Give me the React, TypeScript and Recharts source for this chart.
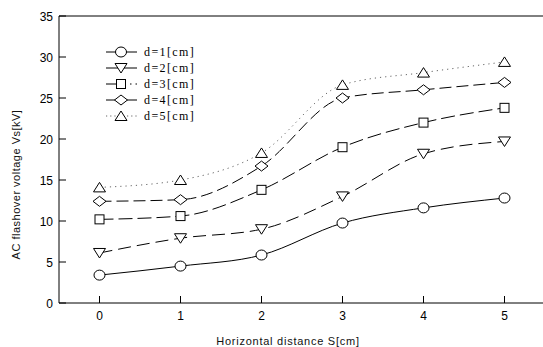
import React from "react";
import {
  LineChart,
  Line,
  XAxis,
  YAxis,
  Legend,
  ReferenceLine,
} from "recharts";

// horizontal distance S [cm]
const distances = [0, 1, 2, 3, 4, 5];
const yTicks = [0, 5, 10, 15, 20, 25, 30, 35];

// AC flashover voltage Vs [kV] for each gap d
const d1 = [3.4, 4.5, 5.85, 9.75, 11.6, 12.8];
const d2 = [6.1, 7.9, 9.0, 13.0, 18.2, 19.7];
const d3 = [10.2, 10.6, 13.8, 19.0, 22.0, 23.8];
const d4 = [12.4, 12.6, 16.7, 25.0, 26.0, 26.9];
const d5 = [14.1, 15.0, 18.3, 26.6, 28.1, 29.4];

const labels = ["d=1[cm]", "d=2[cm]", "d=3[cm]", "d=4[cm]", "d=5[cm]"];

const data = distances.map((s, i) => ({
  s,
  d1: d1[i],
  d2: d2[i],
  d3: d3[i],
  d4: d4[i],
  d5: d5[i],
}));

type Shape = "circle" | "triDown" | "square" | "diamond" | "triUp";

const Marker = ({ cx, cy, shape }: { cx: number; cy: number; shape: Shape }) => {
  const p = { fill: "#fff", stroke: "#000", strokeWidth: 1 };
  if (shape === "circle") return <ellipse cx={cx} cy={cy} rx={5.5} ry={5} {...p} />;
  if (shape === "square") return <rect x={cx - 4.5} y={cy - 4.5} width={9} height={9} {...p} />;
  if (shape === "diamond")
    return <polygon points={`${cx - 6.5},${cy} ${cx},${cy - 5} ${cx + 6.5},${cy} ${cx},${cy + 5}`} {...p} />;
  if (shape === "triDown")
    return <polygon points={`${cx - 6},${cy - 4.5} ${cx + 6},${cy - 4.5} ${cx},${cy + 5}`} {...p} />;
  return <polygon points={`${cx - 6},${cy + 4.5} ${cx + 6},${cy + 4.5} ${cx},${cy - 5}`} {...p} />;
};

const series: { key: string; shape: Shape; dash?: string; color: string }[] = [
  { key: "d1", shape: "circle", color: "#000" },
  { key: "d2", shape: "triDown", dash: "13 6", color: "#000" },
  { key: "d3", shape: "square", dash: "14 5", color: "#000" },
  { key: "d4", shape: "diamond", dash: "12 5", color: "#000" },
  { key: "d5", shape: "triUp", dash: "1.2 4", color: "#666" },
];

const font = "Liberation Sans, Arial, sans-serif";

const YTick = ({ x, y, payload }: any) => (
  <g>
    <line x1={x} x2={x + 7} y1={y} y2={y} stroke="#000" />
    <text x={x - 6} y={y} dy={4.5} textAnchor="end" fontSize={12} fill="#000" fontFamily={font}>
      {payload.value}
    </text>
  </g>
);

const XTick = ({ x, y, payload }: any) => (
  <g>
    <line x1={x} x2={x} y1={y} y2={y - 7} stroke="#000" />
    <text x={x} y={y} dy={17} textAnchor="middle" fontSize={12} fill="#000" fontFamily={font}>
      {payload.value}
    </text>
  </g>
);

const renderLegend = () => (
  <svg width={120} height={82}>
    {series.map((s, i) => {
      const cy = 8 + i * 16;
      return (
        <g key={s.key}>
          <line x1={2} x2={33} y1={cy} y2={cy} stroke={s.color} strokeDasharray={s.key === "d5" ? "1.2 3" : s.key === "d3" ? "19 5 1.5 4" : undefined} />
          <Marker cx={17} cy={cy} shape={s.shape} />
          <text x={40} y={cy} dy={4} fontSize={12} letterSpacing={1.4} fontFamily="Liberation Serif, serif" fill="#000">
            {labels[i]}
          </text>
        </g>
      );
    })}
  </svg>
);

export default function App() {
  return (
    <div style={{ position: "absolute", left: 0, top: 0, width: 543, height: 347, overflow: "hidden", background: "#fff" }}>
      <LineChart width={600} height={347} data={data} margin={{ top: 16, right: 55, bottom: 14, left: 0 }}>
        <XAxis
          dataKey="s"
          type="number"
          domain={[-0.5, 5.5]}
          ticks={distances}
          tickLine={false}
          tickSize={0}
          tickMargin={0}
          tick={<XTick />}
          height={30}
          axisLine={{ stroke: "#000" }}
          label={{ value: "Horizontal distance S[cm]", position: "insideBottom", offset: -12, dx: -14, fontSize: 11, letterSpacing: 0.75, fill: "#111", fontFamily: font }}
        />
        <YAxis
          type="number"
          domain={[0, 35]}
          ticks={yTicks}
          width={59}
          tickLine={false}
          tickSize={0}
          tickMargin={0}
          tick={<YTick />}
          axisLine={{ stroke: "#000" }}
          label={{ value: "AC flashover voltage Vs[kV]", angle: -90, position: "insideLeft", dx: 11, dy: 25, fontSize: 11, letterSpacing: 0.5, fill: "#111", fontFamily: font, style: { textAnchor: "middle" } }}
        />
        <ReferenceLine y={35} stroke="#000" />
        <Legend
          layout="horizontal"
          verticalAlign="middle"
          align="center"
          wrapperStyle={{ top: 44, left: 104, width: 120, height: 82 }}
          content={renderLegend}
        />
        {series.map((s) => (
          <Line
            key={s.key}
            dataKey={s.key}
            type="monotone"
            stroke={s.color}
            strokeWidth={1}
            strokeDasharray={s.dash}
            isAnimationActive={false}
            dot={(props: any) => <Marker key={`${s.key}-${props.index}`} cx={props.cx} cy={props.cy} shape={s.shape} />}
            activeDot={false}
          />
        ))}
      </LineChart>
    </div>
  );
}
